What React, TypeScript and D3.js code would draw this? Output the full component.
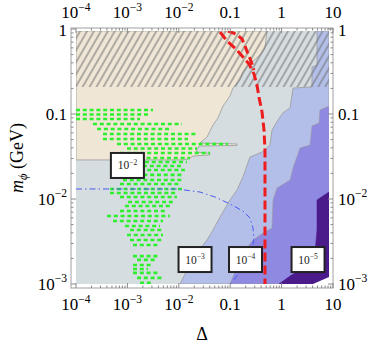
import React from 'react';
import * as d3 from 'd3';

type P = [number, number];

// axis domains
const X_DOMAIN: P = [1e-4, 10];
const Y_DOMAIN: P = [1e-3, 1];
const DATA_XMAX = 8.4;
const DATA_YMAX = 0.95;

const xTickValues = [1e-4, 1e-3, 1e-2, 0.1, 1, 10];
const xTickLabels: [string, string][] = [["10", "−4"], ["10", "−3"], ["10", "−2"], ["0.1", ""], ["1", ""], ["10", ""]];
const yTickValues = [1e-3, 1e-2, 0.1, 1];
const yTickLabels: [string, string][] = [["10", "−3"], ["10", "−2"], ["0.1", ""], ["1", ""]];

// contour regions [Δ, mφ]
const beigeRegion: P[] = [
  [1e-4, 0.95], [0.52, 0.95], [0.475, 0.598], [0.416, 0.522], [0.222, 0.367], [0.177, 0.312],
  [0.155, 0.251], [0.113, 0.202], [0.099, 0.163], [0.0724, 0.124], [0.058, 0.0897], [0.0463, 0.0743],
  [0.0354, 0.0536], [0.0258, 0.0456], [0.1355, 0.0444], [0.1355, 0.0426], [0.0247, 0.042],
  [0.0216, 0.0357], [0.0405, 0.0343], [0.0405, 0.033], [0.0189, 0.032], [0.0151, 0.0296],
  [0.0121, 0.0288], [1e-4, 0.0288],
];
const lightBlueRegion: P[] = [
  [4.89, 0.95], [4.89, 0.377], [3.9, 0.357], [3.9, 0.208], [1.67, 0.202], [1.46, 0.118], [1.06, 0.103],
  [0.851, 0.085], [0.65, 0.0648], [0.594, 0.0432], [0.416, 0.0357], [0.243, 0.0312], [0.177, 0.0182],
  [0.1355, 0.0128], [0.099, 0.00973], [0.0634, 0.00614], [0.0463, 0.00432], [0.0354, 0.0033],
  [0.0226, 0.00232], [0.01445, 0.00146], [0.01055, 0.001], [8.4, 0.001], [8.4, 0.95],
];
const mediumRegion: P[] = [
  [8.4, 0.124], [5.58, 0.1115], [5.35, 0.0784], [3.9, 0.0722], [3.57, 0.0432], [2.28, 0.0398],
  [1.67, 0.0232], [1.46, 0.0167], [0.814, 0.01347], [0.681, 0.00973], [0.65, 0.00456], [0.435, 0.00398],
  [0.278, 0.0033], [0.177, 0.00232], [0.1355, 0.00158], [0.099, 0.001], [8.4, 0.001],
];
const darkRegion: P[] = [
  [8.4, 0.0121], [5.58, 0.01028], [4.89, 0.00973], [4.89, 0.00432], [4.27, 0.00167], [2.28, 0.00146],
  [1.46, 0.00124], [0.89, 0.001], [8.4, 0.001],
];
const emptyCorner: P[] = [[4.08, 0.001], [8.4, 0.001], [8.4, 0.00121]];
const hatchBand: P[] = [[1e-4, 0.208], [8.4, 0.208], [8.4, 0.95], [1e-4, 0.95]];

// red dashed curve (two branches)
const redBranchA: P[] = [
  [0.0634, 0.922], [0.0867, 0.722], [0.1297, 0.582], [0.177, 0.469], [0.232, 0.388], [0.29, 0.296],
  [0.332, 0.219], [0.363, 0.158], [0.416, 0.1056], [0.455, 0.0648], [0.475, 0.0377], [0.475, 0.001],
];
const redBranchB: P[] = [
  [0.0906, 0.947], [0.1297, 0.873], [0.17, 0.763], [0.194, 0.631], [0.222, 0.508], [0.254, 0.42], [0.29, 0.33],
];
// blue dot-dashed curve
const blueCurve: P[] = [
  [1e-4, 0.01312], [0.002754, 0.01312], [0.00923, 0.01312], [0.0258, 0.01208], [0.0506, 0.01056],
  [0.099, 0.00874], [0.177, 0.00722], [0.243, 0.00598], [0.278, 0.00456], [0.29, 0.0033],
  [0.243, 0.00219], [0.17, 0.00154], [0.1297, 0.00121], [0.1037, 0.001],
];
// green scan points: rows [mφ, Δ start, Δ end]
const greenRows: [number, number, number][] = [
  [0.1115, 1e-4, 3.15e-3], [0.0987, 1e-4, 2.52e-3], [0.0873, 1e-4, 1.76e-3],
  [0.0763, 2.14e-4, 0.01153], [0.0666, 2.57e-4, 7.38e-3], [0.0582, 3.35e-4, 0.0226],
  [0.0508, 3.35e-4, 0.0151], [0.0444, 6.28e-4, 0.0906], [0.0393, 9.82e-4, 0.0226],
  [0.0348, 7.18e-4, 0.0405], [0.0304, 1.285e-3, 0.01652], [0.0272, 2.2e-3, 0.01445],
  [0.0244, 2.01e-3, 0.0121], [0.0219, 7.18e-4, 0.0132], [0.0192, 8.2e-4, 0.0121],
  [0.0167, 8.2e-4, 0.01153], [0.015, 7.18e-4, 0.01055], [0.0131, 4.58e-4, 0.01153],
  [0.01177, 4.58e-4, 9.23e-3], [0.01056, 7.18e-4, 9.23e-3], [0.00923, 1.03e-3, 7.71e-3],
  [0.00828, 8.97e-4, 6.74e-3], [0.00722, 7.18e-4, 5.89e-3], [0.00631, 4.01e-4, 6.74e-3],
  [0.00551, 5.25e-4, 4.93e-3], [0.00481, 8.97e-4, 4.31e-3], [0.00432, 1.125e-3, 4.71e-3],
  [0.00377, 9.82e-4, 4.93e-3], [0.0033, 1.125e-3, 4.71e-3], [0.00288, 1.285e-3, 4.31e-3],
  [0.00213, 1.285e-3, 3.94e-3], [0.00192, 1.54e-3, 3.6e-3], [0.00167, 1.285e-3, 3.15e-3],
  [0.0015, 1.285e-3, 2.52e-3], [0.00135, 1.285e-3, 4.31e-3], [0.00118, 1.54e-3, 4.93e-3],
  [0.00103, 1.76e-3, 3.15e-3],
];
// contour labels [Δ, mφ, exponent]
const contourLabels: [number, number, string][] = [
  [1.0e-3, 0.0248, "−2"], [0.0207, 0.00194, "−3"], [0.1986, 0.00194, "−4"], [3.27, 0.00194, "−5"],
];

const FONT = '"Liberation Serif", "Times New Roman", Times, serif';
const fs = (size: number) => ({ fontFamily: FONT, fontSize: size });

export default function App() {
  const x = d3.scaleLog().domain(X_DOMAIN).range([76, 333]);
  const y = d3.scaleLog().domain(Y_DOMAIN).range([284, 29]);
  const line = d3.line<P>().x(d => x(d[0])).y(d => y(d[1]));
  const poly = (pts: P[]) => (line(pts) || '') + 'Z';

  const left = x(X_DOMAIN[0]) - 5;
  const right = x(X_DOMAIN[1]);
  const top = y(Y_DOMAIN[1]) - 1;
  const bottom = y(Y_DOMAIN[0]) + 4;

  const minorX: number[] = [];
  for (let d = -4; d <= 0; d++) for (let k = 2; k <= 9; k++) minorX.push(k * Math.pow(10, d));
  const minorY: number[] = [];
  for (let d = -3; d <= -1; d++) for (let k = 2; k <= 9; k++) minorY.push(k * Math.pow(10, d));

  const tickColor = '#8a8a8a';
  const clipX0 = x(X_DOMAIN[0]), clipX1 = x(DATA_XMAX), clipY0 = y(DATA_YMAX), clipY1 = y(Y_DOMAIN[0]);

  const label = (main: string, sup: string, size = 17) => (
    <>
      <tspan>{main}</tspan>
      {sup ? <tspan style={fs(size * 0.68)} dy={-size * 0.42}>{sup}</tspan> : null}
    </>
  );

  return (
    <svg width={374} height={345} style={{ display: 'block', position: 'absolute', left: 0, top: 0, fontFamily: FONT }}>
      <defs>
        <clipPath id="plotclip">
          <rect x={clipX0} y={clipY0} width={clipX1 - clipX0} height={clipY1 - clipY0} />
        </clipPath>
        <pattern id="hatch" width={6} height={6} patternUnits="userSpaceOnUse" patternTransform="rotate(30)">
          <line x1={1} y1={0} x2={1} y2={6} stroke="#6e6e6e" strokeWidth={1} />
        </pattern>
      </defs>
      <rect x={0} y={0} width={374} height={345} fill="#ffffff" />
      <g clipPath="url(#plotclip)">
        <rect x={clipX0} y={clipY0} width={clipX1 - clipX0} height={clipY1 - clipY0} fill="#d5dde0" />
        <path d={poly(beigeRegion)} fill="#efe6d6" stroke="#9a9a9a" strokeWidth={0.8} />
        <path d={poly(lightBlueRegion)} fill="#b4bfe9" stroke="#9a9a9a" strokeWidth={0.8} />
        <path d={poly(mediumRegion)} fill="#8f89e2" stroke="#9a9a9a" strokeWidth={0.6} />
        <path d={poly(darkRegion)} fill="#4b1a8b" stroke="#4b1a8b" strokeWidth={0.6} />
        <path d={poly(emptyCorner)} fill="#ffffff" />
        <path d={poly(hatchBand)} fill="url(#hatch)" />
        {greenRows.map((r, i) => (
          <line key={i} x1={x(r[1])} x2={x(r[2])} y1={y(r[0])} y2={y(r[0])}
            stroke="#2cf02c" strokeWidth={2.6} strokeDasharray="4,2.8" />
        ))}
        <path d={line(blueCurve) || ''} fill="none" stroke="#4a5cf0" strokeWidth={1} strokeDasharray="6,3,1.5,3" />
        <path d={line(redBranchB) || ''} fill="none" stroke="#ee1c1c" strokeWidth={3} strokeDasharray="8,4" />
        <path d={line(redBranchA) || ''} fill="none" stroke="#ee1c1c" strokeWidth={3} strokeDasharray="9,4" />
      </g>
      {contourLabels.map((c, i) => (
        <g key={i} transform={`translate(${x(c[0])},${y(c[1])})`}>
          <rect x={-16.5} y={-12.5} width={33} height={25} fill="#ffffff" stroke="#222" strokeWidth={2} />
          <text x={0} y={4} textAnchor="middle" style={fs(11.5)} fill="#222">
            <tspan>10</tspan>
            <tspan style={fs(7.5)} dy={-4.5}>{c[2]}</tspan>
          </text>
        </g>
      ))}
      {/* frame */}
      <rect x={left} y={top} width={right - left} height={bottom - top} fill="none" stroke="#a0a0a0" strokeWidth={1} />
      {/* x ticks */}
      {xTickValues.map((v, i) => (
        <g key={'xt' + i}>
          <line x1={x(v)} x2={x(v)} y1={bottom} y2={bottom - 5} stroke={tickColor} />
          <line x1={x(v)} x2={x(v)} y1={top} y2={top + 5} stroke={tickColor} />
          <text x={x(v)} y={310} textAnchor="middle" style={fs(17)}>{label(xTickLabels[i][0], xTickLabels[i][1])}</text>
          <text x={x(v)} y={18} textAnchor="middle" style={fs(17)}>{label(xTickLabels[i][0], xTickLabels[i][1])}</text>
        </g>
      ))}
      {minorX.map((v, i) => (
        <g key={'xm' + i}>
          <line x1={x(v)} x2={x(v)} y1={bottom} y2={bottom - 2.5} stroke={tickColor} />
          <line x1={x(v)} x2={x(v)} y1={top} y2={top + 2.5} stroke={tickColor} />
        </g>
      ))}
      {/* y ticks */}
      {yTickValues.map((v, i) => (
        <g key={'yt' + i}>
          <line x1={left} x2={left + 5} y1={y(v)} y2={y(v)} stroke={tickColor} />
          <line x1={right} x2={right - 5} y1={y(v)} y2={y(v)} stroke={tickColor} />
          <text x={67} y={y(v) + (i === yTickValues.length - 1 ? 6.5 : 5.5)} textAnchor="end" style={fs(17)}>{label(yTickLabels[i][0], yTickLabels[i][1])}</text>
          <text x={338} y={y(v) + (i === yTickValues.length - 1 ? 6.5 : 5.5)} textAnchor="start" style={fs(17)}>{label(yTickLabels[i][0], yTickLabels[i][1])}</text>
        </g>
      ))}
      {minorY.map((v, i) => (
        <g key={'ym' + i}>
          <line x1={left} x2={left + 2.5} y1={y(v)} y2={y(v)} stroke={tickColor} />
          <line x1={right} x2={right - 2.5} y1={y(v)} y2={y(v)} stroke={tickColor} />
        </g>
      ))}
      {/* axis titles */}
      <text x={(left + right) / 2} y={340} textAnchor="middle" style={fs(18)}>Δ</text>
      <text transform={`translate(23,${(top + bottom) / 2}) rotate(-90)`} textAnchor="middle" style={fs(18)}>
        <tspan fontStyle="italic">m</tspan>
        <tspan fontStyle="italic" style={fs(12.5)} dy={4}>ϕ</tspan>
        <tspan dy={-4}> (GeV)</tspan>
      </text>
    </svg>
  );
}
